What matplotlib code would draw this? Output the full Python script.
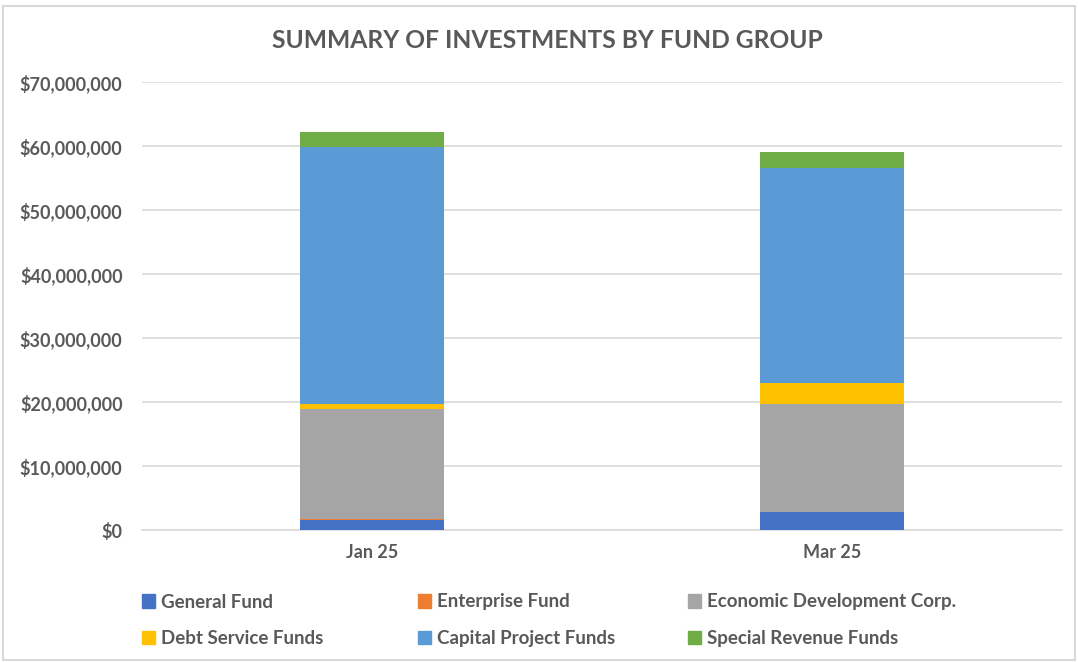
import matplotlib
matplotlib.use("Agg")
import matplotlib.pyplot as plt
import numpy as np
from matplotlib.patches import Rectangle, Patch
from matplotlib.ticker import FuncFormatter

categories = ["Jan 25", "Mar 25"]
series_names = ["General Fund", "Enterprise Fund", "Economic Development Corp.",
                "Debt Service Funds", "Capital Project Funds", "Special Revenue Funds"]
general_fund = [1_550_000, 2_750_000]
enterprise_fund = [100_000, 0]
economic_dev = [17_250_000, 16_950_000]
debt_service = [800_000, 3_300_000]
capital_project = [40_100_000, 33_600_000]
special_revenue = [2_400_000, 2_500_000]
colors = ["#4472C4", "#ED7D31", "#A5A5A5", "#FFC000", "#5B9BD5", "#70AD47"]

plt.rcParams['font.family'] = ['Lato', 'DejaVu Sans']
fig = plt.figure(figsize=(10.78, 6.62), dpi=100)
ax = fig.add_axes([142/1078, 1-530/662, 920/1078, 448/662])

series = [general_fund, enterprise_fund, economic_dev, debt_service, capital_project, special_revenue]
x = np.arange(len(categories))
bottom = np.zeros(len(categories))
for name, vals, c in zip(series_names, series, colors):
    ax.bar(x, vals, bottom=bottom, width=0.315, color=c, label=name, zorder=3)
    bottom += np.array(vals)

ax.set_xlim(-0.5, 1.5)
ax.set_ylim(0, 70_000_000)
ax.set_yticks(np.arange(0, 70_000_001, 10_000_000))
ax.yaxis.set_major_formatter(FuncFormatter(lambda v, p: f"${v:,.0f}"))
ax.set_xticks(x)
ax.set_xticklabels(categories)
ax.grid(axis='y', color='#D9D9D9', linewidth=1.2, zorder=0)
for s in ['top', 'right', 'left']:
    ax.spines[s].set_visible(False)
ax.spines['bottom'].set_color('#D9D9D9')
ax.spines['bottom'].set_linewidth(1.2)
ax.tick_params(axis='both', length=0, labelsize=13, labelcolor='#595959')
ax.tick_params(axis='y', pad=14)
ax.tick_params(axis='x', pad=10)
for lbl in ax.get_xticklabels() + ax.get_yticklabels():
    lbl.set_fontweight('bold')

fig.text(547/1078, 1-40/662, "SUMMARY OF INVESTMENTS BY FUND GROUP", ha='center', va='center',
         fontsize=17.7, fontweight='bold', color='#595959')

# legend, three columns
handles = [Patch(color=c) for c in colors]
cols = [(0, 3), (1, 4), (2, 5)]
xs = [134, 410, 680]
for (i, j), xx in zip(cols, xs):
    leg = fig.legend([handles[i], handles[j]], [series_names[i], series_names[j]],
                     loc='upper left', bbox_to_anchor=(xx/1078, 1-586/662), frameon=False,
                     fontsize=13.5, handlelength=0.7, handleheight=0.7, handletextpad=0.35,
                     labelspacing=1.05, borderaxespad=0)
    for t in leg.get_texts():
        t.set_color('#595959')
        t.set_fontweight('bold')

fig.patches.append(Rectangle((3/1078, 2/662), 1072/1078, 654/662, transform=fig.transFigure,
                             fill=False, edgecolor='#D9D9D9', linewidth=1.5))
fig.savefig("out.png", dpi=100)
